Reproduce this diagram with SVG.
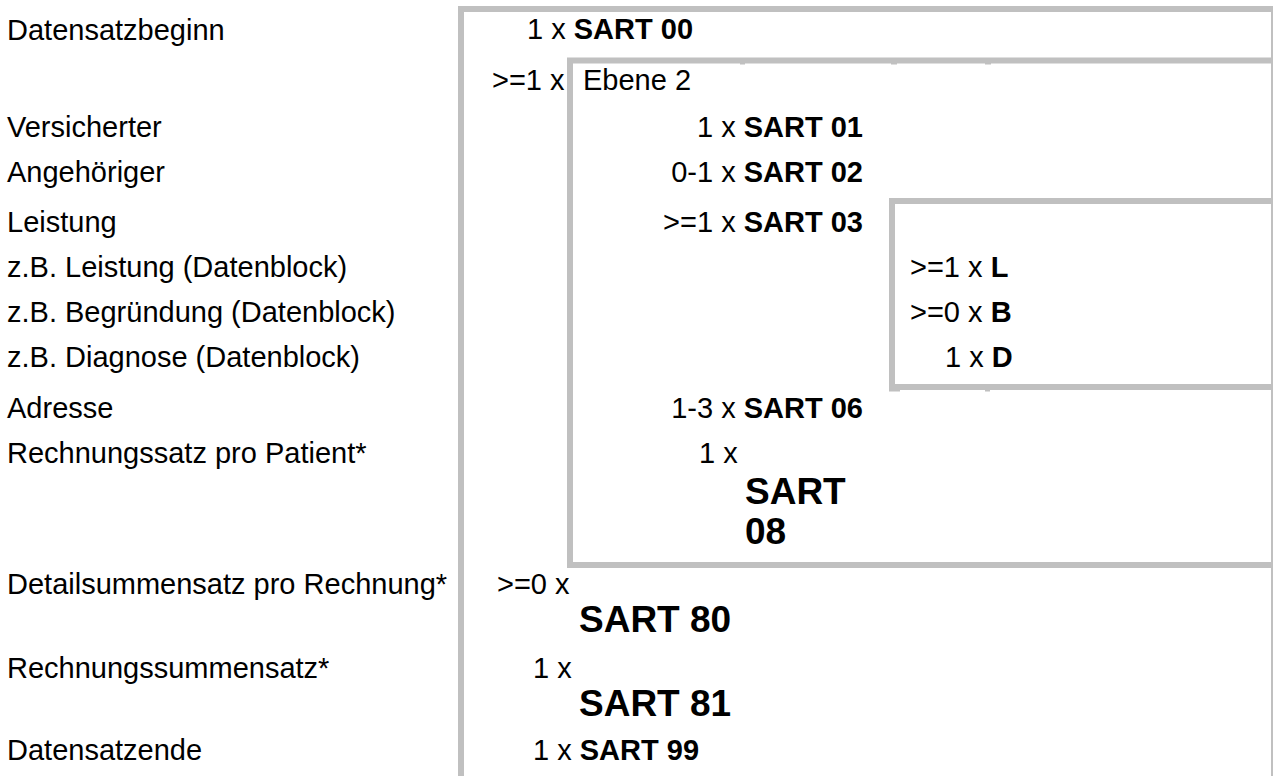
<svg xmlns="http://www.w3.org/2000/svg" width="1273" height="776" viewBox="0 0 1273 776">
<style>
text{font-family:"Liberation Sans",Arial,sans-serif;font-size:29px;fill:#000}
.b{font-weight:bold}
.big{font-weight:bold;font-size:37px}
.frame{fill:none;stroke:#c0c0c0;stroke-width:6}
.thin{fill:none;stroke:#c0c0c0;stroke-width:2}
.tick{fill:#c0c0c0}
</style>
<rect x="0" y="0" width="1273" height="776" fill="#fff"/>
<g id="outer-box">
<line class="frame" x1="461" y1="9" x2="461" y2="776"/>
<line class="frame" x1="458" y1="9" x2="1273" y2="9"/>
<line class="thin" x1="1272" y1="6" x2="1272" y2="776"/>
</g>
<g id="ebene2-box">
<line class="frame" x1="570" y1="60.5" x2="570" y2="568"/>
<line class="frame" x1="567" y1="60.5" x2="1273" y2="60.5"/>
<line class="frame" x1="567" y1="565" x2="1273" y2="565"/>
<rect class="tick" x="740" y="63" width="5" height="1.5"/>
<rect class="tick" x="891" y="63" width="6" height="1.5"/>
<rect class="tick" x="985" y="63" width="6" height="1.5"/>
</g>
<g id="block-box">
<line class="frame" x1="892" y1="198" x2="892" y2="390"/>
<line class="frame" x1="889" y1="201" x2="1273" y2="201"/>
<line class="frame" x1="889" y1="387" x2="1273" y2="387"/>
<rect class="tick" x="889" y="390" width="11" height="1.5"/>
<rect class="tick" x="985" y="390" width="5" height="1.5"/>
</g>
<g id="labels">
<text x="7" y="40">Datensatzbeginn</text>
<text x="7" y="137">Versicherter</text>
<text x="7" y="182">Angehöriger</text>
<text x="7" y="232">Leistung</text>
<text x="7" y="277">z.B. Leistung (Datenblock)</text>
<text x="7" y="322">z.B. Begründung (Datenblock)</text>
<text x="7" y="367">z.B. Diagnose (Datenblock)</text>
<text x="7" y="418">Adresse</text>
<text x="7" y="463">Rechnungssatz pro Patient*</text>
<text x="7" y="594">Detailsummensatz pro Rechnung*</text>
<text x="7" y="678">Rechnungssummensatz*</text>
<text x="7" y="760">Datensatzende</text>
</g>
<g id="sart00"><text x="527" y="39">1 x <tspan class="b">SART 00</tspan></text></g>
<g id="ebene2-label"><text x="492" y="90">&gt;=1 x</text><text x="583" y="90">Ebene 2</text></g>
<g id="sart01"><text x="863" y="137" text-anchor="end">1 x <tspan class="b">SART 01</tspan></text></g>
<g id="sart02"><text x="863" y="182" text-anchor="end">0-1 x <tspan class="b">SART 02</tspan></text></g>
<g id="sart03"><text x="863" y="232" text-anchor="end">&gt;=1 x <tspan class="b">SART 03</tspan></text></g>
<g id="block-L"><text x="910" y="277">&gt;=1 x <tspan class="b">L</tspan></text></g>
<g id="block-B"><text x="910" y="322">&gt;=0 x <tspan class="b">B</tspan></text></g>
<g id="block-D"><text x="945" y="367">1 x <tspan class="b">D</tspan></text></g>
<g id="sart06"><text x="863" y="418" text-anchor="end">1-3 x <tspan class="b">SART 06</tspan></text></g>
<g id="sart08"><text x="699" y="463">1 x</text><text class="big" x="745" y="504">SART</text><text class="big" x="745" y="544">08</text></g>
<g id="sart80"><text x="497" y="594">&gt;=0 x</text><text class="big" x="579" y="632">SART 80</text></g>
<g id="sart81"><text x="533" y="678">1 x</text><text class="big" x="579" y="716">SART 81</text></g>
<g id="sart99"><text x="533" y="760">1 x <tspan class="b">SART 99</tspan></text></g>
</svg>
